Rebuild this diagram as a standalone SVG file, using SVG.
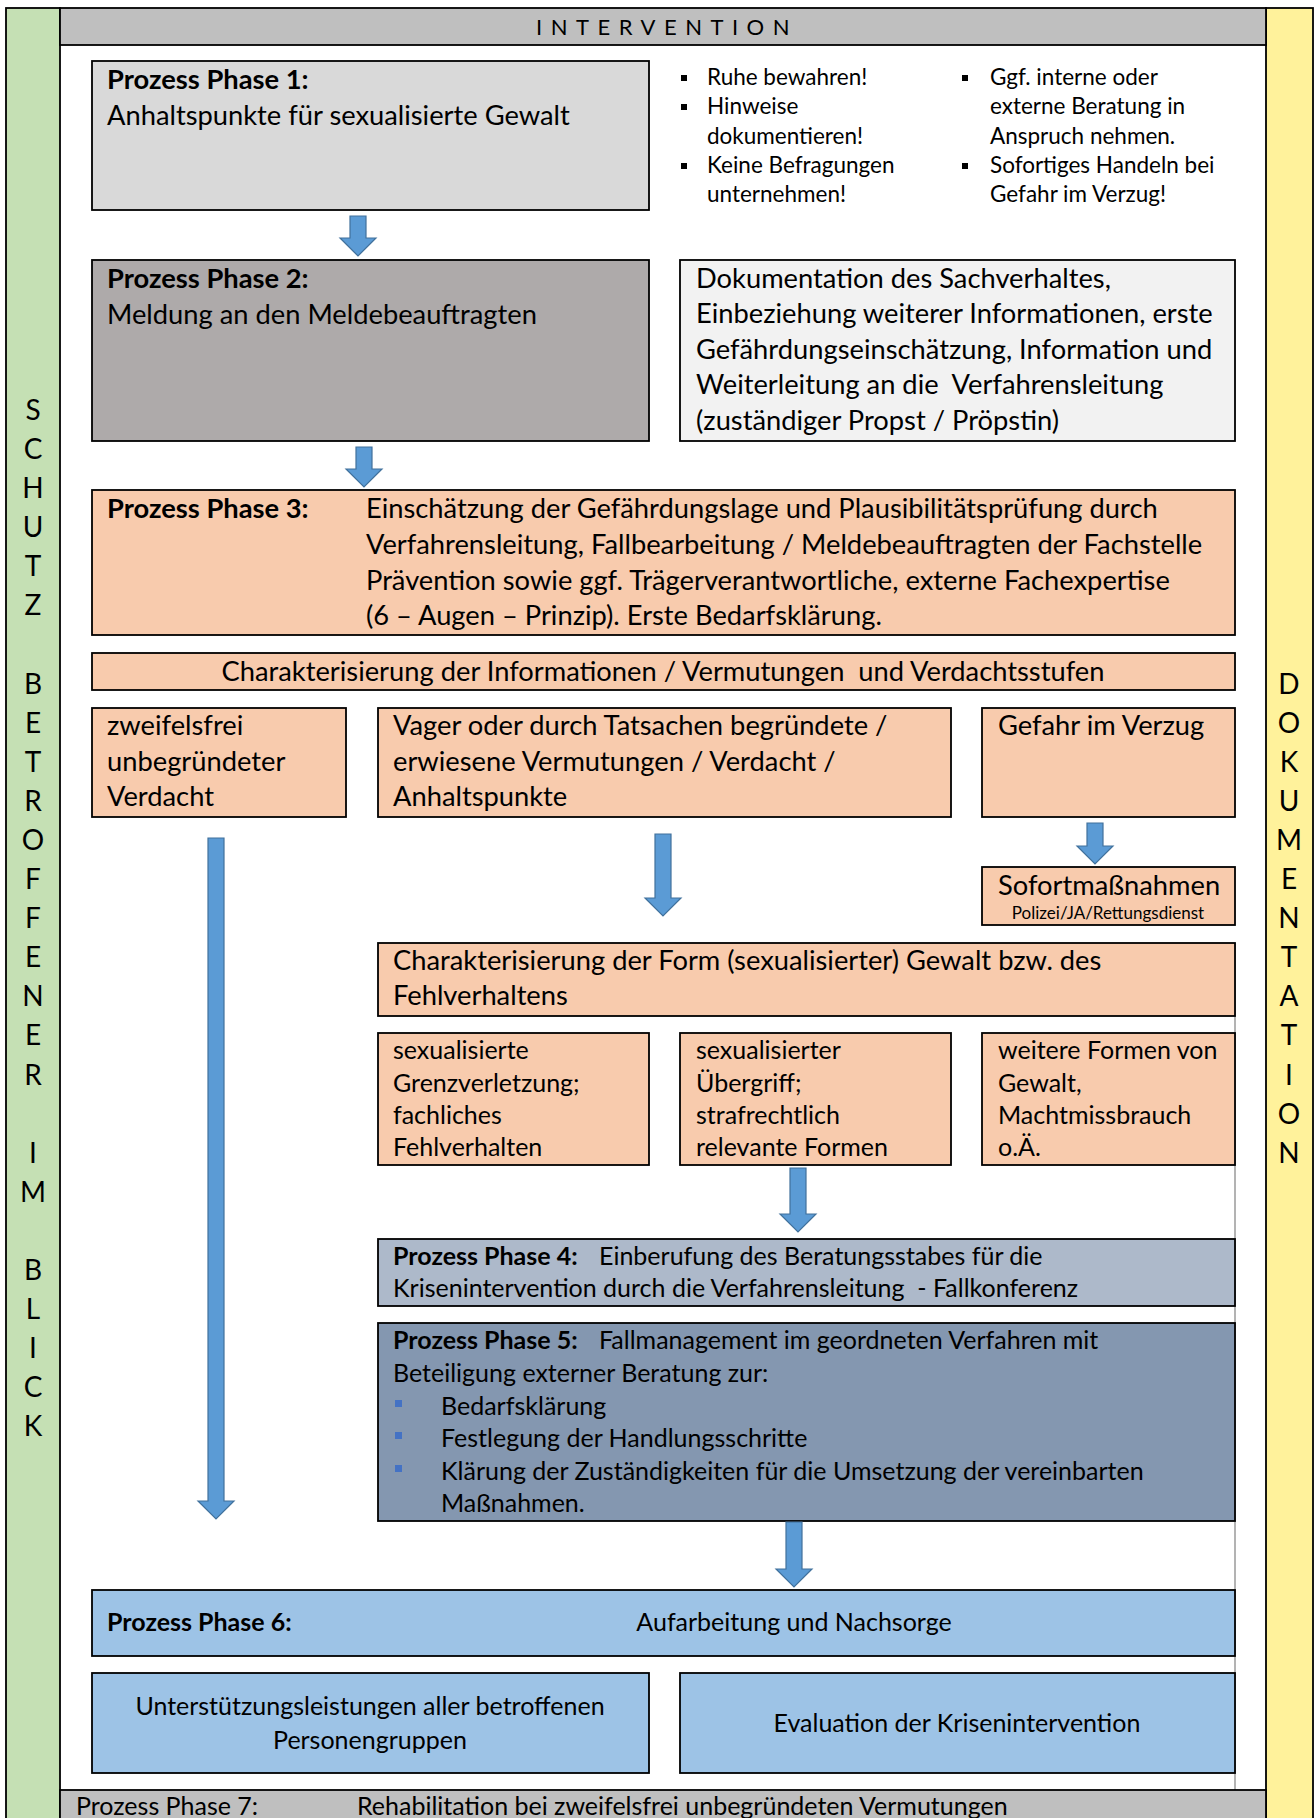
<svg xmlns="http://www.w3.org/2000/svg" width="1315" height="1818" viewBox="0 0 1315 1818">
<defs>
<style>
text{font-family:Lato,"Liberation Sans",sans-serif;fill:#000;white-space:pre}
.t{font-size:27.3px}
.s{font-size:25px}
.h{font-size:22.5px}
.b{font-weight:bold}
.box{stroke:#000;stroke-width:1.8}
.peach{fill:#f8cbad}
.arr{fill:#5b9bd5;stroke:#41719c;stroke-width:1.2}
.side{font-size:28px;text-anchor:middle}
.c{text-anchor:middle}
</style>
</defs>
<rect width="1315" height="1818" fill="#fff"/>
<g id="frame">
<rect x="6" y="8" width="54" height="1820" fill="#c5e0b4" stroke="#000" stroke-width="1.8"/>
<rect x="1266" y="8" width="47" height="1820" fill="#fff29b" stroke="#000" stroke-width="1.8"/>
<rect x="60" y="8" width="1206" height="37" fill="#bfbfbf" stroke="#000" stroke-width="1.8"/>
<text x="667" y="35" class="c" font-size="22" letter-spacing="8.5">INTERVENTION</text>
<line x1="1235" y1="943" x2="1235" y2="1790" stroke="#808080" stroke-width="1.2"/>
</g>
<g id="side-left">
<text class="side" x="33" y="420">S</text>
<text class="side" x="33" y="459">C</text>
<text class="side" x="33" y="498">H</text>
<text class="side" x="33" y="537">U</text>
<text class="side" x="33" y="576">T</text>
<text class="side" x="33" y="615">Z</text>
<text class="side" x="33" y="694">B</text>
<text class="side" x="33" y="733">E</text>
<text class="side" x="33" y="772">T</text>
<text class="side" x="33" y="811">R</text>
<text class="side" x="33" y="850">O</text>
<text class="side" x="33" y="889">F</text>
<text class="side" x="33" y="928">F</text>
<text class="side" x="33" y="967">E</text>
<text class="side" x="33" y="1006">N</text>
<text class="side" x="33" y="1045">E</text>
<text class="side" x="33" y="1085">R</text>
<text class="side" x="33" y="1163">I</text>
<text class="side" x="33" y="1202">M</text>
<text class="side" x="33" y="1280">B</text>
<text class="side" x="33" y="1319">L</text>
<text class="side" x="33" y="1358">I</text>
<text class="side" x="33" y="1397">C</text>
<text class="side" x="33" y="1436">K</text>
</g>
<g id="side-right">
<text class="side" x="1289" y="694">D</text>
<text class="side" x="1289" y="733">O</text>
<text class="side" x="1289" y="772">K</text>
<text class="side" x="1289" y="811">U</text>
<text class="side" x="1289" y="850">M</text>
<text class="side" x="1289" y="889">E</text>
<text class="side" x="1289" y="928">N</text>
<text class="side" x="1289" y="967">T</text>
<text class="side" x="1289" y="1006">A</text>
<text class="side" x="1289" y="1045">T</text>
<text class="side" x="1289" y="1085">I</text>
<text class="side" x="1289" y="1124">O</text>
<text class="side" x="1289" y="1163">N</text>
</g>
<g id="phase1">
<rect class="box" x="92" y="61" width="557" height="149" fill="#d9d9d9"/>
<text class="t b" x="107" y="89">Prozess Phase 1:</text>
<text class="t" x="107" y="125">Anhaltspunkte für sexualisierte Gewalt</text>
</g>
<g id="hints">
<rect x="681" y="75" width="6" height="6" fill="#000"/>
<rect x="681" y="104" width="6" height="6" fill="#000"/>
<rect x="681" y="163" width="6" height="6" fill="#000"/>
<text class="h" x="707" y="85">Ruhe bewahren!</text>
<text class="h" x="707" y="114">Hinweise</text>
<text class="h" x="707" y="144">dokumentieren!</text>
<text class="h" x="707" y="173">Keine Befragungen</text>
<text class="h" x="707" y="202">unternehmen!</text>
<rect x="962" y="75" width="6" height="6" fill="#000"/>
<rect x="962" y="163" width="6" height="6" fill="#000"/>
<text class="h" x="990" y="85">Ggf. interne oder</text>
<text class="h" x="990" y="114">externe Beratung in</text>
<text class="h" x="990" y="144">Anspruch nehmen.</text>
<text class="h" x="990" y="173">Sofortiges Handeln bei</text>
<text class="h" x="990" y="202">Gefahr im Verzug!</text>
</g>
<g id="phase2">
<rect class="box" x="92" y="260" width="557" height="181" fill="#aeaaaa"/>
<text class="t b" x="107" y="288">Prozess Phase 2:</text>
<text class="t" x="107" y="324">Meldung an den Meldebeauftragten</text>
</g>
<g id="doku">
<rect class="box" x="680" y="260" width="555" height="181" fill="#f2f2f2"/>
<text class="t" x="696" y="288">Dokumentation des Sachverhaltes,</text>
<text class="t" x="696" y="323">Einbeziehung weiterer Informationen, erste</text>
<text class="t" x="696" y="359">Gefährdungseinschätzung, Information und</text>
<text class="t" x="696" y="394">Weiterleitung an die  Verfahrensleitung</text>
<text class="t" x="696" y="430">(zuständiger Propst / Pröpstin)</text>
</g>
<g id="phase3">
<rect class="box peach" x="92" y="490" width="1143" height="145"/>
<text class="t b" x="107" y="518">Prozess Phase 3:</text>
<text class="t" x="366" y="518">Einschätzung der Gefährdungslage und Plausibilitätsprüfung durch</text>
<text class="t" x="366" y="554">Verfahrensleitung, Fallbearbeitung / Meldebeauftragten der Fachstelle</text>
<text class="t" x="366" y="590">Prävention sowie ggf. Trägerverantwortliche, externe Fachexpertise</text>
<text class="t" x="366" y="625">(6 – Augen – Prinzip). Erste Bedarfsklärung.</text>
</g>
<g id="char-info">
<rect class="box peach" x="92" y="653" width="1143" height="37"/>
<text class="t c" x="663" y="681">Charakterisierung der Informationen / Vermutungen  und Verdachtsstufen</text>
</g>
<g id="unbegruendet">
<rect class="box peach" x="92" y="708" width="254" height="109"/>
<text class="t" x="107" y="735">zweifelsfrei</text>
<text class="t" x="107" y="771">unbegründeter</text>
<text class="t" x="107" y="806">Verdacht</text>
</g>
<g id="vager">
<rect class="box peach" x="378" y="708" width="573" height="109"/>
<text class="t" x="393" y="735">Vager oder durch Tatsachen begründete /</text>
<text class="t" x="393" y="771">erwiesene Vermutungen / Verdacht /</text>
<text class="t" x="393" y="806">Anhaltspunkte</text>
</g>
<g id="gefahr">
<rect class="box peach" x="982" y="708" width="253" height="109"/>
<text class="t" x="998" y="735">Gefahr im Verzug</text>
</g>
<g id="sofort">
<rect class="box peach" x="982" y="867" width="253" height="58"/>
<text class="t" x="998" y="895" font-size="27">Sofortmaßnahmen</text>
<text class="c" x="1108" y="919" font-size="17">Polizei/JA/Rettungsdienst</text>
</g>
<g id="char-form">
<rect class="box peach" x="378" y="943" width="857" height="73"/>
<text class="t" x="393" y="970">Charakterisierung der Form (sexualisierter) Gewalt bzw. des</text>
<text class="t" x="393" y="1005">Fehlverhaltens</text>
</g>
<g id="grenz">
<rect class="box peach" x="378" y="1033" width="271" height="132"/>
<text class="s" x="393" y="1059">sexualisierte</text>
<text class="s" x="393" y="1092">Grenzverletzung;</text>
<text class="s" x="393" y="1124">fachliches</text>
<text class="s" x="393" y="1156">Fehlverhalten</text>
</g>
<g id="uebergriff">
<rect class="box peach" x="680" y="1033" width="271" height="132"/>
<text class="s" x="696" y="1059">sexualisierter</text>
<text class="s" x="696" y="1092">Übergriff;</text>
<text class="s" x="696" y="1124">strafrechtlich</text>
<text class="s" x="696" y="1156">relevante Formen</text>
</g>
<g id="weitere">
<rect class="box peach" x="982" y="1033" width="253" height="132"/>
<text class="s" x="998" y="1059">weitere Formen von</text>
<text class="s" x="998" y="1092">Gewalt,</text>
<text class="s" x="998" y="1124">Machtmissbrauch</text>
<text class="s" x="998" y="1156">o.Ä.</text>
</g>
<g id="phase4">
<rect class="box" x="378" y="1239" width="857" height="67" fill="#adb9ca"/>
<text class="s b" x="393" y="1265">Prozess Phase 4:</text>
<text class="s" x="599" y="1265">Einberufung des Beratungsstabes für die</text>
<text class="s" x="393" y="1297">Krisenintervention durch die Verfahrensleitung  - Fallkonferenz</text>
</g>
<g id="phase5">
<rect class="box" x="378" y="1323" width="857" height="198" fill="#8497b0"/>
<text class="s b" x="393" y="1349">Prozess Phase 5:</text>
<text class="s" x="599" y="1349">Fallmanagement im geordneten Verfahren mit</text>
<text class="s" x="393" y="1382">Beteiligung externer Beratung zur:</text>
<rect x="395" y="1400" width="7" height="7" fill="#4472c4"/>
<rect x="395" y="1432" width="7" height="7" fill="#4472c4"/>
<rect x="395" y="1465" width="7" height="7" fill="#4472c4"/>
<text class="s" x="441" y="1415">Bedarfsklärung</text>
<text class="s" x="441" y="1447">Festlegung der Handlungsschritte</text>
<text class="s" x="441" y="1480">Klärung der Zuständigkeiten für die Umsetzung der vereinbarten</text>
<text class="s" x="441" y="1512">Maßnahmen.</text>
</g>
<g id="phase6">
<rect class="box" x="92" y="1590" width="1143" height="66" fill="#9dc3e6"/>
<text class="s b" x="107" y="1631">Prozess Phase 6:</text>
<text class="s c" x="794" y="1631">Aufarbeitung und Nachsorge</text>
</g>
<g id="support">
<rect class="box" x="92" y="1673" width="557" height="100" fill="#9dc3e6"/>
<text class="s c" x="370" y="1715">Unterstützungsleistungen aller betroffenen</text>
<text class="s c" x="370" y="1749">Personengruppen</text>
</g>
<g id="evaluation">
<rect class="box" x="680" y="1673" width="555" height="100" fill="#9dc3e6"/>
<text class="s c" x="957" y="1732">Evaluation der Krisenintervention</text>
</g>
<g id="phase7">
<rect class="box" x="60" y="1790" width="1206" height="40" fill="#bfbfbf"/>
<text class="s" x="76" y="1815">Prozess Phase 7:</text>
<text class="s" x="357" y="1815">Rehabilitation bei zweifelsfrei unbegründeten Vermutungen</text>
</g>
<g id="connectors">
<path class="arr" d="M350,216H366V238H376L358,256L340,238H350Z"/>
<path class="arr" d="M356,447H372V469H382L364,487L346,469H356Z"/>
<path class="arr" d="M208,838H224V1501H234L216,1519L198,1501H208Z"/>
<path class="arr" d="M655,834H671V898H681L663,916L645,898H655Z"/>
<path class="arr" d="M1087,823H1103V846H1113L1095,864L1077,846H1087Z"/>
<path class="arr" d="M790,1168H806V1214H816L798,1232L780,1214H790Z"/>
<path class="arr" d="M786,1522H802V1569H812L794,1587L776,1569H786Z"/>
</g>
</svg>
